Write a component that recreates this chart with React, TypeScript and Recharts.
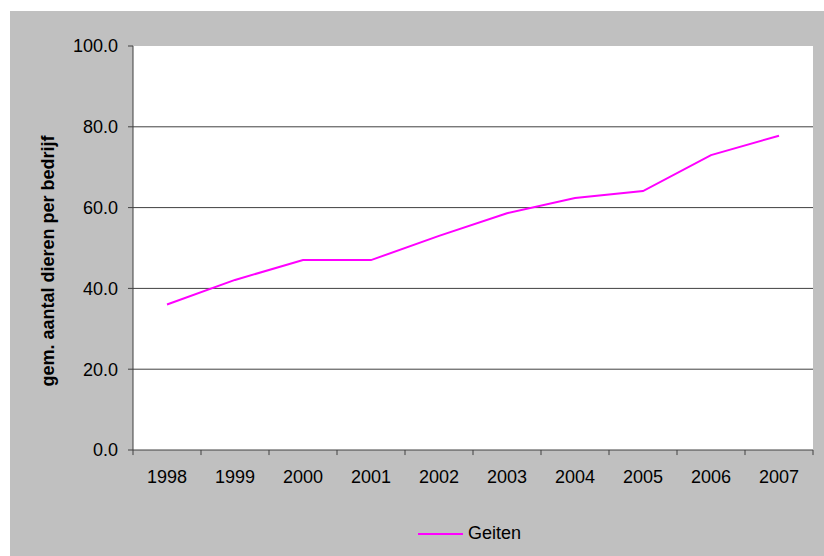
import { Legend, Line, LineChart, ReferenceArea, ReferenceLine, XAxis, YAxis } from 'recharts';

const years = ['1998', '1999', '2000', '2001', '2002', '2003', '2004', '2005', '2006', '2007'];
const geiten = [36.0, 42.1, 47.0, 47.0, 53.0, 58.6, 62.4, 64.1, 73.0, 77.8];
const yTicks = [0, 20, 40, 60, 80, 100];
const gridValues = [20, 40, 60, 80];

const FONT = '"Liberation Sans", Arial, sans-serif';
const AXIS = '#404040';

const data = years.map((year, i) => ({ x: i + 0.5, year, geiten: geiten[i] }));
const labelTicks = data.map((d) => d.x);
const boundaries = years.map((_, i) => i).concat(years.length);

function YLabel({ viewBox }: any) {
  const cx = viewBox.x + 38;
  const cy = viewBox.y + viewBox.height / 2 + 13;
  return (
    <text
      x={cx}
      y={cy}
      transform={`rotate(-90, ${cx}, ${cy})`}
      textAnchor="middle"
      dominantBaseline="central"
      fontFamily={FONT}
      fontWeight="bold"
      fontSize={18}
      fill="#000"
    >
      gem. aantal dieren per bedrijf
    </text>
  );
}

function LegendContent() {
  return (
    <div style={{ display: 'flex', alignItems: 'center', fontFamily: FONT, fontSize: 18, color: '#000' }}>
      <svg width={45} height={4} style={{ marginRight: 5 }}>
        <line x1={0} y1={2} x2={45} y2={2} stroke="#FF00FF" strokeWidth={2} />
      </svg>
      <span>Geiten</span>
    </div>
  );
}

export default function App() {
  return (
    <div style={{ position: 'absolute', left: 0, top: 0, width: 824, height: 556, background: '#fff' }}>
      <div style={{ position: 'absolute', left: 10, top: 11, width: 814, height: 545, background: '#C0C0C0' }}>
        <LineChart width={814} height={545} data={data} margin={{ top: 35, right: 11, left: 0, bottom: 0 }}>
          <ReferenceArea x1={0} x2={10} y1={0} y2={100} fill="#fff" fillOpacity={1} stroke="none" ifOverflow="visible" />
          {gridValues.map((v) => (
            <ReferenceLine key={v} y={v} stroke={AXIS} strokeWidth={1} />
          ))}
          {boundaries.map((b) => (
            <ReferenceLine
              key={`t${b}`}
              segment={[{ x: b, y: 0 }, { x: b, y: -1.25 }]}
              stroke={AXIS}
              strokeWidth={1}
              ifOverflow="visible"
            />
          ))}
          <XAxis
            dataKey="x"
            type="number"
            domain={[0, 10]}
            ticks={labelTicks}
            tickFormatter={(v: number) => years[Math.floor(v)]}
            interval={0}
            height={106}
            tickLine={false}
            tickSize={6}
            tickMargin={14}
            axisLine={{ stroke: AXIS }}
            tick={{ fill: '#000', fontSize: 18, fontFamily: FONT }}
          />
          <YAxis
            domain={[0, 100]}
            ticks={yTicks}
            width={123}
            tickFormatter={(v: number) => v.toFixed(1)}
            tickSize={5}
            tickMargin={10}
            tickLine={{ stroke: AXIS }}
            axisLine={{ stroke: AXIS }}
            tick={{ fill: '#000', fontSize: 18, fontFamily: FONT }}
            label={<YLabel />}
          />
          <Legend
            layout="horizontal"
            verticalAlign="middle"
            content={<LegendContent />}
            wrapperStyle={{ top: 512, left: 408, width: 'auto' }}
          />
          <Line
            type="linear"
            dataKey="geiten"
            stroke="#FF00FF"
            strokeWidth={2}
            dot={false}
            isAnimationActive={false}
          />
        </LineChart>
      </div>
    </div>
  );
}
